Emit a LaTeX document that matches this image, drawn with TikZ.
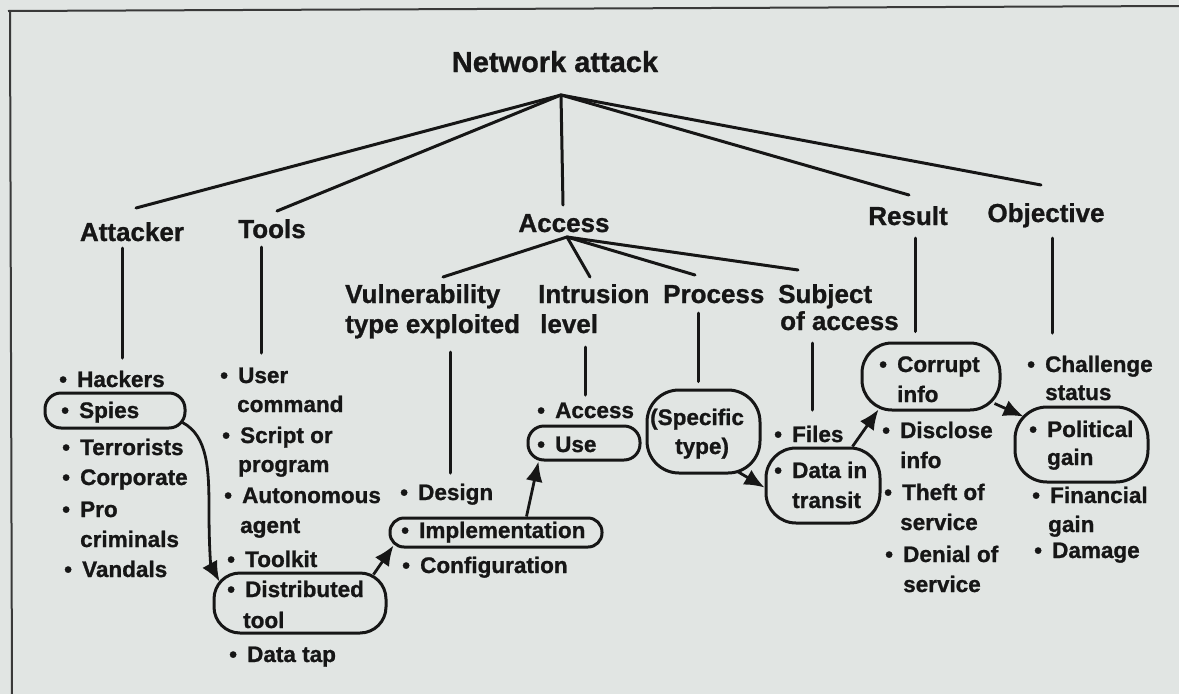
\documentclass[tikz,border=0pt]{standalone}
\usepackage{fontspec}
\setmainfont{Liberation Sans}[BoldFeatures={FakeBold=1}]
\usetikzlibrary{arrows.meta,calc}
\definecolor{paper}{RGB}{225,229,227}
\definecolor{ink}{RGB}{22,22,22}
% bullet followed by a fixed gap, so the item text lines up
\newcommand\dotitem{\makebox[18pt][l]{\textbullet}}

\begin{document}
\begin{tikzpicture}[x=1pt,y=-1pt,
  every node/.style={inner sep=0pt, text=ink},
  rootlabel/.style={font=\fontsize{29}{34}\selectfont\bfseries, anchor=base},
  toplabel/.style={font=\fontsize{26}{30}\selectfont\bfseries, anchor=base},
  sublabel/.style={font=\fontsize{26}{30}\selectfont\bfseries, anchor=base west},
  entry/.style={font=\fontsize{22.5}{27}\selectfont\bfseries, anchor=base west},
  branch/.style={draw=ink, line width=3pt, line cap=round},
  hilite/.style={draw=ink, line width=3pt},
  flow/.style={draw=ink, line width=2.8pt, -{Latex[length=20pt,width=17pt]}},
  frame/.style={draw=ink!85, line width=2pt}
]
\path[use as bounding box, fill=paper] (0,0) rectangle (1179,694);

% page frame
\draw[frame] (8,11) -- (1179,6);
\draw[frame] (10,11) -- (12,694);

% ---------- highlighted entries ----------
\node[hilite, minimum width=140pt, minimum height=35pt, rounded corners=16pt] (spiesO) at (115,410.5) {};
\node[hilite, minimum width=172pt, minimum height=60pt, rounded corners=26pt] (distO) at (300,603) {};
\node[hilite, minimum width=212pt, minimum height=29pt, rounded corners=14pt] (implO) at (496,532.5) {};
\node[hilite, minimum width=112pt, minimum height=34pt, rounded corners=16pt] (useO) at (584,443) {};
\node[hilite, minimum width=113pt, minimum height=83pt, rounded corners=32pt] (specO) at (703.5,431.5) {};
\node[hilite, minimum width=114pt, minimum height=75pt, rounded corners=30pt] (dataO) at (823,485.5) {};
\node[hilite, minimum width=138pt, minimum height=67pt, rounded corners=30pt] (corrO) at (931,376.5) {};
\node[hilite, minimum width=133pt, minimum height=75pt, rounded corners=32pt] (polO) at (1081.5,444.5) {};

% ---------- root and first level ----------
\node[rootlabel] (root) at (555,72) {Network attack};
\node[toplabel] (attacker) at (132,241) {Attacker};
\node[toplabel] (tools) at (272,238) {Tools};
\node[toplabel] (access) at (564,232) {Access};
\node[toplabel] (result) at (908,225) {Result};
\node[toplabel] (objective) at (1046,222) {Objective};

% ---------- second level under Access ----------
\node[sublabel] (vuln) at (345,303) {Vulnerability};
\node[sublabel] (vulnB) at (345,333) {type exploited};
\node[sublabel] (intrusion) at (538,303) {Intrusion};
\node[sublabel] (level) at (540,333) {level};
\node[sublabel] (process) at (663,303) {Process};
\node[sublabel] (subject) at (778,303) {Subject};
\node[sublabel] (ofaccess) at (780,330) {of access};

% ---------- Attacker ----------
\node[entry] (hackers) at (59,387) {\dotitem Hackers};
\node[entry] (spies) at (61,418) {\dotitem Spies};
\node[entry] (terrorists) at (62,455) {\dotitem Terrorists};
\node[entry] (corporate) at (62,485) {\dotitem Corporate};
\node[entry] (pro) at (62,517) {\dotitem Pro};
\node[entry] (criminals) at (80,547) {criminals};
\node[entry] (vandals) at (64,577) {\dotitem Vandals};

% ---------- Tools ----------
\node[entry] (user) at (220,383) {\dotitem User};
\node[entry] (command) at (237,412) {command};
\node[entry] (script) at (222,443) {\dotitem Script or};
\node[entry] (program) at (238,472) {program};
\node[entry] (autonomous) at (224,503) {\dotitem Autonomous};
\node[entry] (agent) at (240,533) {agent};
\node[entry] (toolkit) at (227,567) {\dotitem Toolkit};
\node[entry] (distributed) at (227,597) {\dotitem Distributed};
\node[entry] (tool) at (243,628) {tool};
\node[entry] (datatap) at (229,662) {\dotitem Data tap};

% ---------- Vulnerability type ----------
\node[entry] (design) at (400,500) {\dotitem Design};
\node[entry] (implementation) at (401,538) {\dotitem Implementation};
\node[entry] (configuration) at (402,573) {\dotitem Configuration};

% ---------- Intrusion level ----------
\node[entry] (accessI) at (537,418) {\dotitem Access};
\node[entry] (use) at (537,452) {\dotitem Use};

% ---------- Process ----------
\node[entry] (specific) at (650,425) {(Specific};
\node[entry] (specifictype) at (675,454) {type)};

% ---------- Subject of access ----------
\node[entry] (files) at (774,442) {\dotitem Files};
\node[entry] (datain) at (774,478) {\dotitem Data in};
\node[entry] (transit) at (792,508) {transit};

% ---------- Result ----------
\node[entry] (corrupt) at (879,372) {\dotitem Corrupt};
\node[entry] (info1) at (897,402) {info};
\node[entry] (disclose) at (882,438) {\dotitem Disclose};
\node[entry] (info2) at (900,468) {info};
\node[entry] (theft) at (884,500) {\dotitem Theft of};
\node[entry] (service1) at (900,530) {service};
\node[entry] (denial) at (885,562) {\dotitem Denial of};
\node[entry] (service2) at (903,592) {service};

% ---------- Objective ----------
\node[entry] (challenge) at (1027,372) {\dotitem Challenge};
\node[entry] (status) at (1045,400) {status};
\node[entry] (political) at (1029,437) {\dotitem Political};
\node[entry] (gain1) at (1047,465) {gain};
\node[entry] (financial) at (1032,503) {\dotitem Financial};
\node[entry] (gain2) at (1048,532) {gain};
\node[entry] (damage) at (1034,558) {\dotitem Damage};

% ---------- tree branches ----------
\coordinate (apex) at ($(root.base)+(6,23)$);
\draw[branch] (apex) -- ($(attacker.base)+(4,-33)$);
\draw[branch] (apex) -- ($(tools.base)+(5,-27)$);
\draw[branch] (apex) -- ($(access.base)+(-1,-27)$);
\draw[branch] (apex) -- ($(result.base)+(1,-30)$);
\draw[branch] (apex) -- ($(objective.base)+(-5,-37)$);

\coordinate (apexB) at ($(access.base)+(3,5)$);
\draw[branch] (apexB) -- ($(vuln.base west)+(98,-26)$);
\draw[branch] (apexB) -- ($(intrusion.base west)+(52,-26)$);
\draw[branch] (apexB) -- ($(process.base west)+(32,-28)$);
\draw[branch] (apexB) -- ($(subject.base west)+(20,-33)$);

\draw[branch] ($(attacker.base)+(-10,7)$) -- ($(hackers.base west)+(63,-29)$);
\draw[branch] ($(tools.base)+(-11,9)$) -- ($(user.base west)+(41,-30)$);
\draw[branch] ($(result.base)+(7,13)$) -- ($(corrO.north)+(-16,-10)$);
\draw[branch] ($(objective.base)+(6,16)$) -- ($(challenge.base west)+(25,-39)$);

\draw[branch] ($(vulnB.base west)+(105,19)$) -- ($(design.base west)+(50,-27)$);
\draw[branch] ($(level.base west)+(45,14)$) -- ($(accessI.base west)+(48,-23)$);
\draw[branch] ($(process.base west)+(35,10)$) -- ($(specO.north)+(-5.5,-7)$);
\draw[branch] ($(ofaccess.base west)+(32,13)$) -- ($(files.base west)+(38,-32)$);

% ---------- example attack path ----------
\draw[flow] ($(spiesO.east)+(-4,12)$) .. controls (208,436) and (209,470) .. (209,510)
  .. controls (209,550) and (211,566) .. ($(distO.north west)+(7,10)$);
\draw[flow] ($(distO.north east)+(-14,3)$) -- ($(implO.south west)+(5,-3)$);
\draw[flow] ($(implO.north west)+(138,0)$) -- ($(useO.south west)+(12,0)$);
\draw[flow] ($(specO.south east)+(-24,-3)$) -- ($(dataO.west)+(0,2)$);
\draw[flow] ($(dataO.north west)+(88,0)$) -- ($(corrO.south west)+(18,-2)$);
\draw[flow] ($(corrO.south east)+(-7,-8)$) -- ($(polO.north west)+(10,11)$);
\end{tikzpicture}
\end{document}
